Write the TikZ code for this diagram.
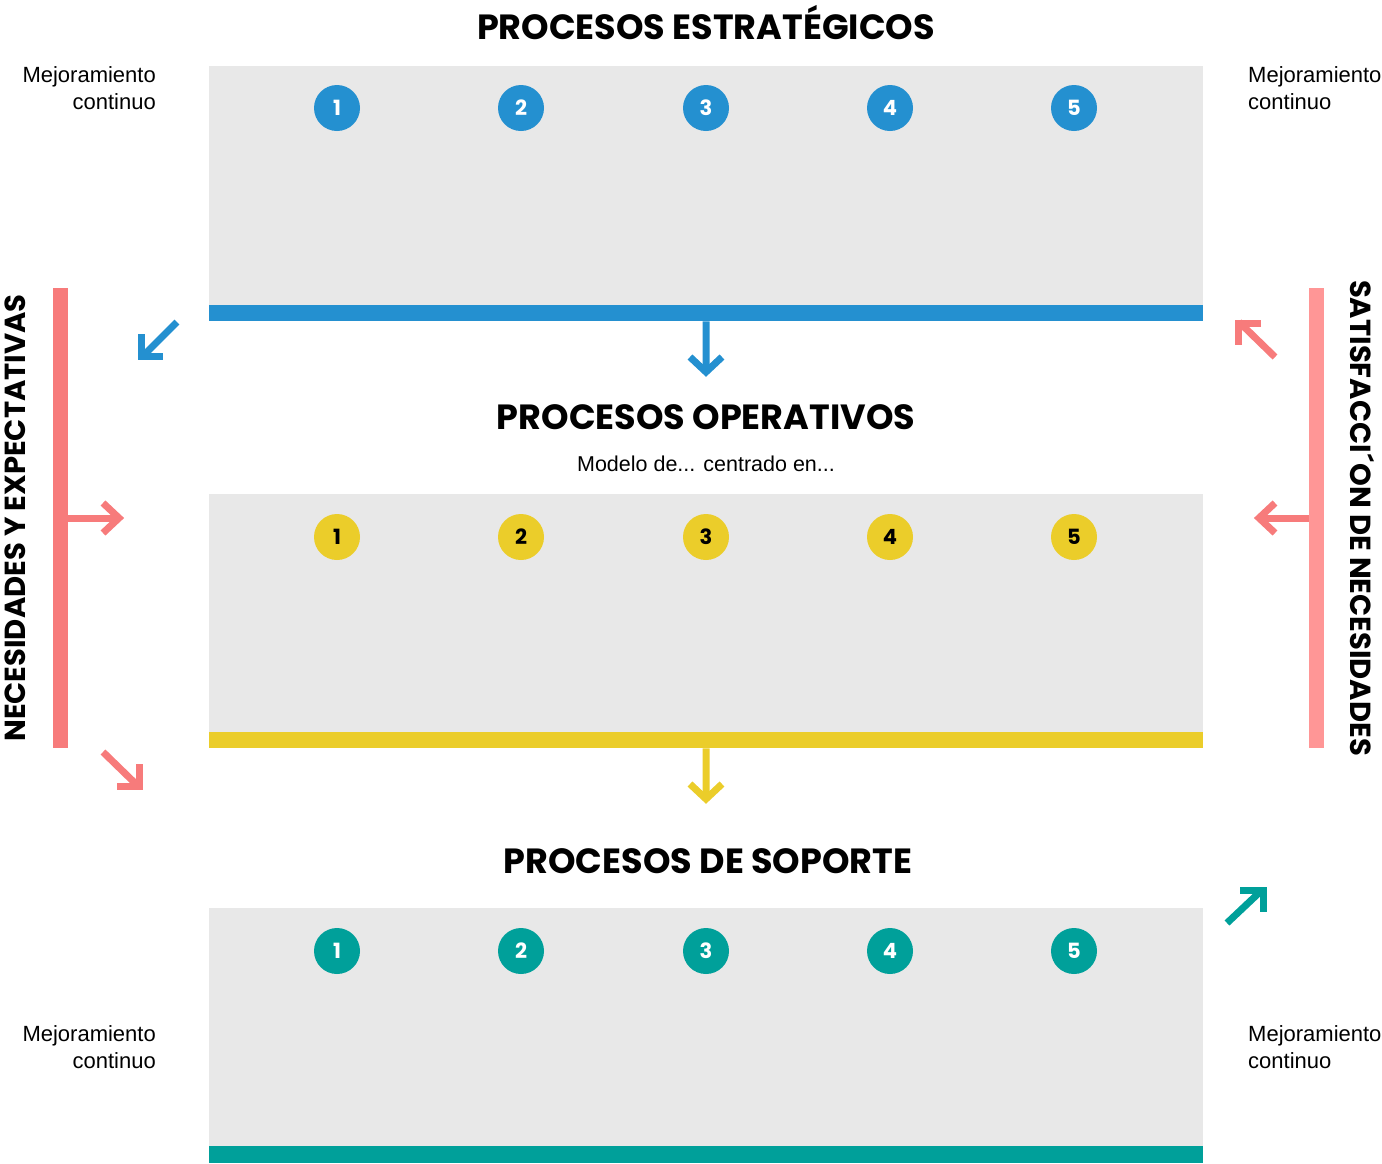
\documentclass[tikz,border=0pt]{standalone}
\usepackage{fontspec}
\setmainfont{Liberation Sans}
\newfontfamily\headfont{Poppins}
\usetikzlibrary{positioning}
\definecolor{cblue}{HTML}{2490D0}
\definecolor{cyellow}{HTML}{EBCD2A}
\definecolor{cteal}{HTML}{00A09A}
\definecolor{cpink}{HTML}{F77B7B}
\definecolor{cpinkl}{HTML}{FF9696}
\definecolor{cgray}{HTML}{E8E8E8}
\tikzset{
  panel/.style={fill=cgray, draw=none, minimum width=994pt, minimum height=239pt, inner sep=0pt, anchor=north west},
  stripe/.style={draw=none, minimum width=994pt, minimum height=16pt, inner sep=0pt, anchor=north west},
  num/.style={circle, fill=#1, minimum size=46pt, inner sep=0pt, text=white, font=\headfont\bfseries\fontsize{21}{21}\selectfont},
  numdark/.style={circle, fill=#1, minimum size=46pt, inner sep=0pt, text=black, font=\headfont\bfseries\fontsize{21}{21}\selectfont},
  heading/.style={font=\headfont\bfseries\fontsize{35}{35}\selectfont, inner sep=0pt},
  vhead/.style={font=\headfont\bfseries\fontsize{29}{29}\selectfont, inner sep=0pt},
  note/.style={font=\fontsize{22}{27.5}\selectfont, inner sep=0pt, align=#1},
  vbar/.style={draw=none, minimum width=15pt, minimum height=460pt, inner sep=0pt, anchor=north west},
  shaft/.style={line width=7pt, draw=#1},
  chev/.style={line width=7pt, draw=#1, line join=miter, line cap=butt},
}
\begin{document}
\begin{tikzpicture}[x=1pt,y=-1pt]
\useasboundingbox (0,0) rectangle (1382,1163);

% headings
\node[heading] (h1) at (706,23) {PROCESOS ESTRATÉGICOS};
\node[heading] (h2) at (706,417) {PROCESOS OPERATIVOS};
\node[font=\fontsize{21.5}{21.5}\selectfont, inner sep=0pt] (sub) at (706,464) {Modelo de... centrado en...};
\node[heading] (h3) at (708,861) {PROCESOS DE SOPORTE};

% panels
\node[panel] (p1) at (209,66) {};
\node[stripe, fill=cblue] (s1) at (209,305) {};
\node[panel] (p2) at (209,494) {};
\node[stripe, fill=cyellow] (s2) at (209,732) {};
\node[panel, minimum height=240pt] (p3) at (209,908) {};
\node[stripe, fill=cteal, minimum height=17pt] (s3) at (209,1146) {};

% circles
\foreach \i/\x in {1/337,2/521,3/706,4/890,5/1074}{
  \node[num=cblue] (a\i) at (\x,108) {\i};
  \node[numdark=cyellow] (b\i) at (\x,537) {\i};
  \node[num=cteal] (c\i) at (\x,951) {\i};
}

% side notes
\node[note=right, anchor=north east] (m1) at (156,66) {Mejoramiento\\continuo};
\node[note=left, anchor=north west] (m2) at (1248,66) {Mejoramiento\\continuo};
\node[note=right, anchor=north east] (m3) at (156,1025) {Mejoramiento\\continuo};
\node[note=left, anchor=north west] (m4) at (1248,1025) {Mejoramiento\\continuo};

% vertical bars
\node[vbar, fill=cpink] (lb) at (53,288) {};
\node[vbar, fill=cpinkl] (rb) at (1309,288) {};
\node[vhead, rotate=90] (lt) at (15,518) {NECESIDADES Y EXPECTATIVAS};
\node[vhead, rotate=-90] (rt) at (1362,518) {SATISFACCI\kern2pt´\kern1pt ON DE NECESIDADES};

% down arrows
\coordinate (d1) at (706,372);
\draw[shaft=cblue] (s1.south) -- (d1);
\draw[chev=cblue] (690,357) -- (706,372) -- (722,357);
\coordinate (d2) at (706,799);
\draw[shaft=cyellow] (s2.south) -- (d2);
\draw[chev=cyellow] (690,784) -- (706,799) -- (722,784);

% side horizontal arrows
\coordinate (la) at (120,518);
\draw[shaft=cpink] (lb.east |- la) -- (la);
\draw[chev=cpink] (103,503) -- (119,518) -- (103,533);
\coordinate (ra) at (1259,518);
\draw[shaft=cpink] (rb.west |- ra) -- (ra);
\draw[chev=cpink] (1275,503) -- (1259,518) -- (1275,533);

% diagonal arrows
\coordinate (q1s) at (177,322); \coordinate (q1e) at (142,357);
\draw[shaft=cblue] (q1s) -- (q1e);
\draw[chev=cblue] (141,334) -- (141,356) -- (163,356);

\coordinate (q2s) at (1275,357); \coordinate (q2e) at (1239,322);
\draw[shaft=cpink] (q2s) -- (q2e);
\draw[chev=cpink] (1261,323) -- (1238,323) -- (1238,345);

\coordinate (q3s) at (103,752); \coordinate (q3e) at (138,786);
\draw[shaft=cpink] (q3s) -- (q3e);
\draw[chev=cpink] (139,764) -- (139,786) -- (117,786);

\coordinate (q4s) at (1227,923); \coordinate (q4e) at (1262,890);
\draw[shaft=cteal] (q4s) -- (q4e);
\draw[chev=cteal] (1240,890) -- (1263,890) -- (1263,912);
\end{tikzpicture}
\end{document}
